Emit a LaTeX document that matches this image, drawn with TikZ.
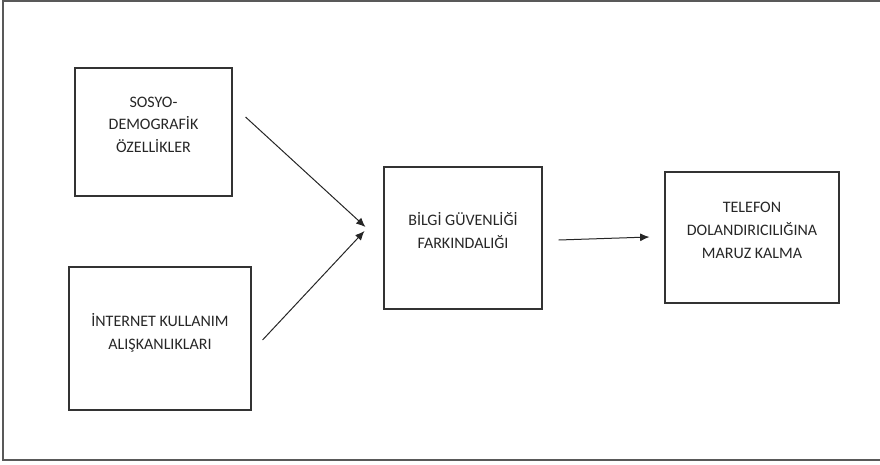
\documentclass[tikz,border=0pt]{standalone}
\usepackage{fontspec}
\setmainfont{Carlito}
\usetikzlibrary{arrows.meta}

\begin{document}
\begin{tikzpicture}[x=0.75pt, y=-0.75pt,
    box/.style={draw=black!80, line width=0.8pt, rectangle, align=center, inner sep=0pt,
        text=black!85, font=\fontsize{12}{17}\selectfont, text depth=11pt},
    link/.style={-{Latex[length=7pt,width=6pt]}, line width=0.75pt, black!85}]
    \useasboundingbox (0,0) rectangle (880,464);

    % Frame
    \draw[line width=1.5pt, black!65] (3,1) rectangle (900,460);

    % Socio-demographic box
    \node[box, minimum width=117.75pt, minimum height=96pt] (sosyo) at (153.5,132) {SOSYO-\\DEMOGRAF\.IK\\ÖZELL\.IKLER};

    % Internet box
    \node[box, minimum width=136.5pt, minimum height=107.25pt] (internet) at (160,338.5) {\.INTERNET KULLANIM\\ALIŞKANLIKLARI};

    % Awareness box
    \node[box, minimum width=118.5pt, minimum height=106.5pt] (bilgi) at (463,238) {B\.ILG\.I GÜVENL\.IĞ\.I\\FARKINDALIĞI};

    % Outcome box
    \node[box, minimum width=130.5pt, minimum height=98.25pt] (telefon) at (752,237.5) {TELEFON\\DOLANDIRICILIĞINA\\MARUZ KALMA};

    % Arrow ends
    \coordinate (s1) at ([shift={(13,-15)}]sosyo.east);
    \coordinate (s2) at ([shift={(11,1.5)}]internet.east);
    \coordinate (e1) at ([shift={(-18,-11)}]bilgi.west);
    \coordinate (e2) at ([shift={(-19,-7)}]bilgi.west);
    \coordinate (s3) at ([shift={(16,2)}]bilgi.east);
    \coordinate (e3) at ([shift={(-15,-0.5)}]telefon.west);

    % Arrows
    \draw[link] (s1) -- (e1);
    \draw[link] (s2) -- (e2);
    \draw[link] (s3) -- (e3);
\end{tikzpicture}
\end{document}
